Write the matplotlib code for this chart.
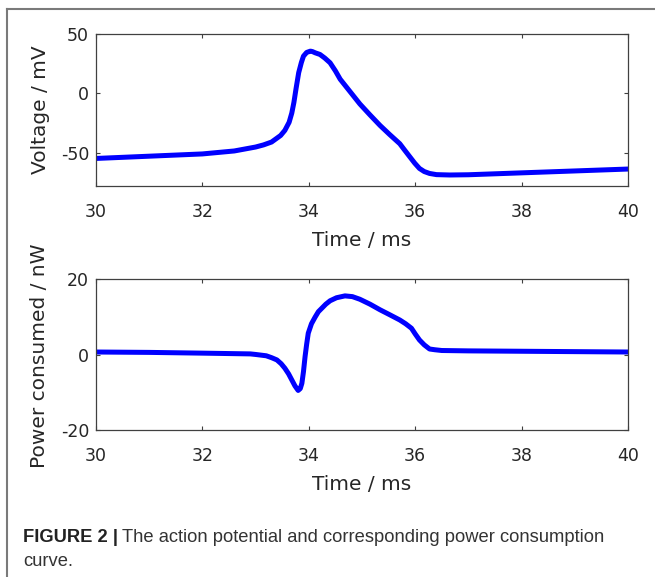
import matplotlib
matplotlib.use("Agg")
import matplotlib.pyplot as plt
from matplotlib.lines import Line2D

plt.rcParams["axes.unicode_minus"] = False

# action potential
time_v = [30.0, 31.0, 32.0, 32.6, 33.0, 33.15, 33.3, 33.47, 33.55, 33.63, 33.68,
          33.72, 33.76, 33.81, 33.86, 33.9, 33.96, 34.03, 34.07, 34.12, 34.21,
          34.3, 34.4, 34.5, 34.59, 34.96, 35.15, 35.34, 35.52, 35.71, 35.8,
          35.9, 35.99, 36.08, 36.17, 36.27, 36.4, 36.65, 37.0, 38.0, 39.0, 40.0]
volt = [-54.6, -52.7, -50.8, -48.3, -45.0, -43.2, -40.8, -35.3, -31.0, -24.2, -16.5,
        -7.5, 4.0, 17.5, 26.0, 31.4, 34.5, 35.6, 35.2, 34.2, 32.8,
        29.8, 25.8, 19.0, 12.0, -8.8, -18.0, -26.9, -34.5, -42.2, -47.5,
        -53.3, -58.5, -63.0, -65.6, -67.2, -68.2, -68.5, -68.3, -66.7, -65.1, -63.5]

# power consumption curve
time_p = [30.0, 31.0, 32.0, 32.9, 33.0, 33.2, 33.3, 33.4, 33.48, 33.55, 33.62,
          33.68, 33.74, 33.8, 33.84, 33.87, 33.9, 33.93, 33.96, 33.99, 34.05,
          34.12, 34.18, 34.25, 34.32, 34.4, 34.52, 34.68, 34.82, 34.96, 35.15,
          35.34, 35.52, 35.71, 35.82, 35.93, 36.0, 36.08, 36.17, 36.27, 36.37,
          36.5, 37.0, 38.0, 39.0, 40.0]
power = [0.7, 0.6, 0.4, 0.2, 0.05, -0.3, -0.8, -1.4, -2.4, -3.6, -5.1,
         -6.7, -8.3, -9.5, -9.0, -7.6, -4.5, -0.5, 2.8, 5.7, 8.2,
         10.0, 11.4, 12.4, 13.4, 14.3, 15.1, 15.6, 15.4, 14.7, 13.4,
         11.9, 10.6, 9.2, 8.2, 7.0, 5.5, 3.9, 2.6, 1.5, 1.3,
         1.1, 1.0, 0.9, 0.8, 0.7]

xticks = [30, 32, 34, 36, 38, 40]
v_ticks = [-50, 0, 50]
p_ticks = [-20, 0, 20]

W, H = 655, 577
fig = plt.figure(figsize=(W / 100, H / 100), dpi=100)
fig.patch.set_facecolor("white")

txt = "#262626"
axfont = "DejaVu Sans"

def px(x0, y0, x1, y1):
    # pixel box -> figure fraction
    return [x0 / W, 1 - y1 / H, (x1 - x0) / W, (y1 - y0) / H]

ax1 = fig.add_axes(px(96, 34, 628, 185.7))
ax2 = fig.add_axes(px(96, 279.3, 628, 430))

for ax, t, y, yt, ylim in [(ax1, time_v, volt, v_ticks, (-77.5, 50)),
                           (ax2, time_p, power, p_ticks, (-20, 20))]:
    ax.plot(t, y, color="#0000ff", lw=3.6, solid_capstyle="round",
            solid_joinstyle="round")
    ax.set_xlim(30, 40)
    ax.set_ylim(*ylim)
    ax.set_xticks(xticks)
    ax.set_yticks(yt)
    ax.tick_params(direction="in", length=3, width=0.8, colors="#404040",
                   top=True, right=True, labelsize=12.5, labelcolor=txt)
    ax.tick_params(axis="x", pad=12.5)
    ax.tick_params(axis="y", pad=5)
    for lab in ax.get_xticklabels() + ax.get_yticklabels():
        lab.set_family(axfont)
    for s in ax.spines.values():
        s.set_color("#404040")
        s.set_linewidth(0.9)
    ax.set_xlabel("Time / ms", fontsize=14.5, family=axfont, color=txt,
                  labelpad=7)

fig.text(40 / W, 1 - 110 / H, "Voltage / mV", rotation=90, ha="center",
         va="center", fontsize=14.5, family=axfont, color=txt)
fig.text(40 / W, 1 - 356 / H, "Power consumed / nW", rotation=90, ha="center",
         va="center", fontsize=14.5, family=axfont, color=txt)

# frame around the figure panel
fig.add_artist(Line2D([7 / W, 7 / W], [0, 1 - 9 / H], color="#7a7a7a", lw=1.5))
fig.add_artist(Line2D([7 / W, 1], [1 - 9 / H, 1 - 9 / H], color="#7a7a7a", lw=1.5))

# caption
cap_font = "Liberation Sans"
cap_size = 13.2
b = fig.text(23 / W, 1 - 541.5 / H, "FIGURE 2 |", fontsize=cap_size, family=cap_font,
             weight="bold", color="#222222", va="baseline")
fig.canvas.draw()
bb = b.get_window_extent()
fig.text(bb.x1 / W + 4 / W, 1 - 541.5 / H,
         "The action potential and corresponding power consumption",
         fontsize=cap_size, family=cap_font, color="#333333", va="baseline")
fig.text(23 / W, 1 - 566 / H, "curve.", fontsize=cap_size, family=cap_font,
         color="#333333", va="baseline")

fig.savefig("out.png", dpi=100)
